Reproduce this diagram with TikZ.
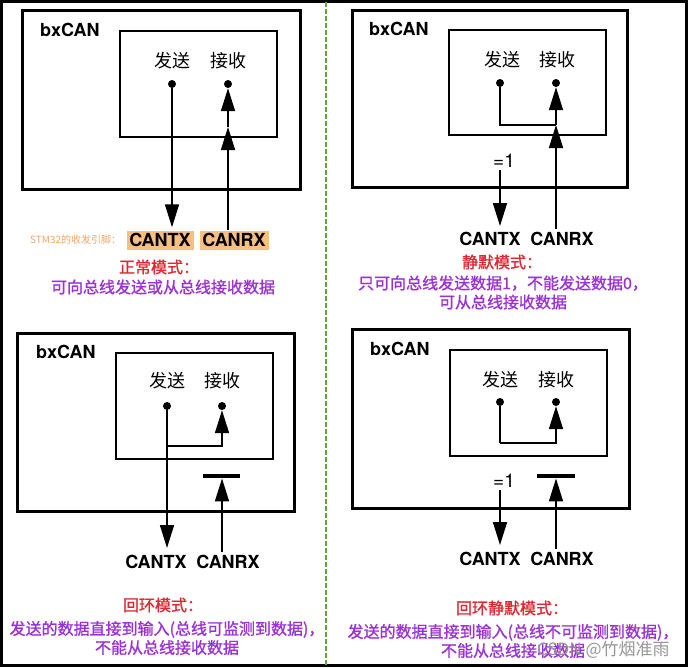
\documentclass[tikz,border=0pt]{standalone}
\usepackage{fontspec}
\newfontfamily\cjk{Noto Sans CJK SC}
\newfontfamily\cjkheavy[FakeBold=1.2]{Noto Sans CJK SC}
\newfontfamily\lat{TeX Gyre Heros}
\usepackage{tikz}
\usetikzlibrary{arrows.meta,positioning}
\definecolor{pinorange}{RGB}{248,190,130}
\definecolor{noteorange}{RGB}{240,165,100}
\definecolor{modered}{RGB}{222,40,50}
\definecolor{modepurple}{RGB}{155,50,215}
\definecolor{dashgreen}{RGB}{100,165,60}
\definecolor{markgrey}{RGB}{150,150,150}
\tikzset{
    outerbox/.style={draw, line width=3pt, minimum width=277pt, minimum height=178pt, inner sep=0pt},
    innerbox/.style={draw, line width=1.5pt, minimum width=157pt, minimum height=106pt, inner sep=0pt},
    chip/.style={font=\lat\bfseries\fontsize{18}{18}\selectfont, inner sep=0pt, anchor=base west},
    portlabel/.style={font=\cjk\fontsize{18}{18}\selectfont, inner sep=0pt},
    port/.style={circle, fill=black, inner sep=0pt, minimum size=8pt},
    pin/.style={font=\lat\bfseries\fontsize{18}{18}\selectfont, inner sep=3pt},
    pinbox/.style={pin, fill=pinorange, minimum height=19pt, inner sep=1pt},
    eqone/.style={font=\lat\fontsize{19}{19}\selectfont, inner sep=2pt},
    blockbar/.style={fill=black, minimum width=37pt, minimum height=4.5pt, inner sep=0pt},
    note/.style={font=\cjk\fontsize{10}{10}\selectfont, text=noteorange, inner sep=0pt},
    modetitle/.style={font=\cjkheavy\fontsize{16}{16}\selectfont, text=modered, inner sep=0pt},
    modetext/.style={font=\cjkheavy\fontsize{16}{19}\selectfont, text=modepurple, align=center, inner sep=0pt},
    wire/.style={line width=1.6pt},
    flow/.style={-{Triangle[length=23pt, width=14pt]}, line width=1.6pt},
    divider/.style={dashgreen, line width=2pt, dash pattern=on 5pt off 2pt},
}

\begin{document}
\begin{tikzpicture}[x=1pt, y=-1pt]
    \useasboundingbox (0,0) rectangle (688,667);
    \draw[line width=2.6pt] (1.3,1.3) rectangle (686.2,665.5);
    \draw[divider] (326,2) -- (326,665);

    % normal mode
    \node[outerbox, minimum width=278pt, minimum height=179pt] (nBox) at (161,99.5) {};
    \node[innerbox] (nCore) at (198.5,84) {};
    \node[chip] (nName) at (40,36) {bxCAN};
    \node[portlabel] (nTxLbl) at (172,61) {发送};
    \node[portlabel] (nRxLbl) at (228,61) {接收};
    \node[port] (nTx) at (172,84) {};
    \node[port] (nRx) at (228,84) {};
    \node[pinbox, minimum width=67pt] (nCanTx) at (160,240) {CANTX};
    \node[pinbox, minimum width=69pt] (nCanRx) at (234,240) {CANRX};
    \node[note, anchor=west] (nNote) at (30,240) {STM32的收发引脚：};
    \node[modetitle] (nTitle) at (159,267) {正常模式：};
    \node[modetext] (nText) at (163,287) {可向总线发送或从总线接收数据};
    \coordinate (nJoin) at (228,127);
    \draw[flow, shorten >=3pt] (nTx) -- (nTx |- nCanTx.north);
    \draw[flow] (nRx |- nCanRx.north) -- (nJoin);
    \draw[flow] (nJoin) -- (nRx);

    % silent mode
    \node[outerbox, minimum width=275pt, minimum height=177pt] (sBox) at (489.5,98.5) {};
    \node[innerbox, minimum height=105pt] (sCore) at (527.5,82.5) {};
    \node[chip] (sName) at (369,35) {bxCAN};
    \node[portlabel] (sTxLbl) at (502,60) {发送};
    \node[portlabel] (sRxLbl) at (557,60) {接收};
    \node[port] (sTx) at (500,83) {};
    \node[port] (sRx) at (556,83) {};
    \node[eqone] (sEq) at (504,161) {=1};
    \node[pin] (sCanTx) at (490,239) {CANTX};
    \node[pin] (sCanRx) at (562,239) {CANRX};
    \node[modetitle] (sTitle) at (502,262) {静默模式：};
    \node[modetext] (sText) at (503,292.5) {只可向总线发送数据1，不能发送数据0，\\可从总线接收数据};
    \coordinate (sJoin) at (556,125);
    \draw[wire] (sTx) |- (sJoin);
    \draw[flow] (sRx |- sCanRx.north) -- (sJoin);
    \draw[flow] (sJoin) -- (sRx);
    \draw[flow, shorten >=3pt] (sTx |- sEq.south) -- (sTx |- sCanTx.north);

    % loop back mode
    \node[outerbox] (lBox) at (155.5,422) {};
    \node[innerbox] (lCore) at (194.5,406) {};
    \node[chip] (lName) at (36,358) {bxCAN};
    \node[portlabel] (lTxLbl) at (167,381) {发送};
    \node[portlabel] (lRxLbl) at (222,381) {接收};
    \node[port] (lTx) at (167,406) {};
    \node[port] (lRx) at (222,406) {};
    \node[blockbar] (lBar) at (221,476) {};
    \node[pin] (lCanTx) at (156,562) {CANTX};
    \node[pin] (lCanRx) at (228,562) {CANRX};
    \node[modetitle] (lTitle) at (163,605) {回环模式：};
    \node[modetext] (lText) at (167,638) {发送的数据直接到输入(总线可监测到数据)，\\不能从总线接收数据};
    \coordinate (lJoin) at (167,446);
    \draw[flow] (lJoin) -| (lRx);
    \draw[flow, shorten >=4pt] (lTx) -- (lTx |- lCanTx.north);
    \draw[flow] (lRx |- lCanRx.north) -- (lRx |- lBar.south);

    % loop back + silent mode
    \node[outerbox, minimum height=179pt] (bBox) at (490.5,418.5) {};
    \node[innerbox] (bCore) at (528.5,403) {};
    \node[chip] (bName) at (370,355) {bxCAN};
    \node[portlabel] (bTxLbl) at (500,380) {发送};
    \node[portlabel] (bRxLbl) at (556,380) {接收};
    \node[port] (bTx) at (500,402) {};
    \node[port] (bRx) at (556,402) {};
    \node[eqone] (bEq) at (504,481) {=1};
    \node[blockbar, minimum width=38pt] (bBar) at (556,476) {};
    \node[pin] (bCanTx) at (490,559) {CANTX};
    \node[pin] (bCanRx) at (562,559) {CANRX};
    \node[modetitle] (bTitle) at (512,608) {回环静默模式：};
    \node[modetext] (bText) at (513,641) {发送的数据直接到输入(总线不可监测到数据)，\\不能从总线接收数据};
    \coordinate (bJoin) at (500,443);
    \draw[wire] (bTx) -- (bJoin);
    \draw[flow] (bJoin) -| (bRx);
    \draw[flow, shorten >=4pt] (bTx |- bEq.south) -- (bTx |- bCanTx.north);
    \draw[flow] (bRx |- bCanRx.north) -- (bRx |- bBar.south);

    \node[font=\cjk\fontsize{17}{17}\selectfont, text=markgrey, anchor=west, inner sep=0pt] (wMark) at (537,650) {CSDN @竹烟准雨};
\end{tikzpicture}
\end{document}
